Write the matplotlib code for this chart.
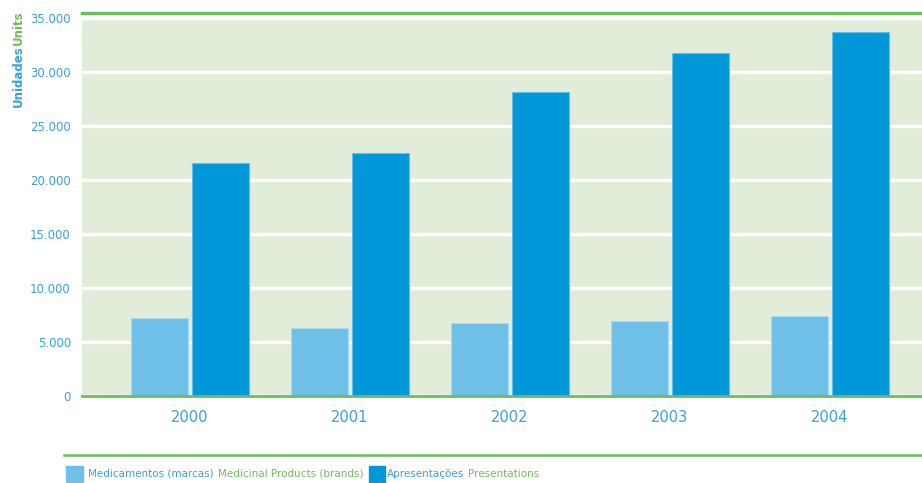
import matplotlib.pyplot as plt
import numpy as np
from matplotlib.patches import Rectangle
from matplotlib.lines import Line2D

plt.rcParams['font.family'] = ['DejaVu Sans']

years = ["2000", "2001", "2002", "2003", "2004"]
medicamentos = [7190, 6320, 6760, 6970, 7440]
apresentacoes = [21600, 22500, 28180, 31760, 33730]
yticks = [0, 5000, 10000, 15000, 20000, 25000, 30000, 35000]
ytick_labels = ["0", "5.000", "10.000", "15.000", "20.000", "25.000", "30.000", "35.000"]

LIGHT = "#6EC0E8"
DARK = "#0098D8"
GREEN = "#6BBF59"
BG = "#E2EDD9"
TXT = "#3A9FDB"

W, H = 922, 483
fig = plt.figure(figsize=(W / 100, H / 100), dpi=100)
ax = fig.add_axes([82 / W, 1 - 396 / H, 1 - 82 / W, (396 - 18) / H])
ax.set_facecolor(BG)

x = np.arange(len(years))
bw = 0.356
ax.bar(x - bw / 2 - 0.01, medicamentos, bw, color=LIGHT, edgecolor="#A8DCF2", linewidth=0.8, zorder=3)
ax.bar(x + bw / 2 + 0.01, apresentacoes, bw, color=DARK, edgecolor="#5FC0EC", linewidth=0.8, zorder=3)

ax.set_xlim(-0.675, 4.575)
ax.set_ylim(0, 35000)
ax.set_yticks(yticks)
ax.set_yticklabels(ytick_labels)
ax.set_xticks(x)
ax.set_xticklabels(years)
ax.yaxis.grid(True, color="white", linewidth=2.5, zorder=1)
ax.set_axisbelow(True)
ax.tick_params(axis="both", length=0, colors=TXT)
ax.tick_params(axis="y", labelsize=8.5, pad=8)
ax.tick_params(axis="x", labelsize=10.5, pad=10)
for s in ["top", "right", "left"]:
    ax.spines[s].set_visible(False)
ax.spines["bottom"].set_color(GREEN)
ax.spines["bottom"].set_linewidth(2)
ax.spines["bottom"].set_zorder(4)

# top and bottom green rules
fig.add_artist(Line2D([82 / W, 1], [1 - 13 / H, 1 - 13 / H], color=GREEN, linewidth=2.5))
fig.add_artist(Line2D([64 / W, 1], [1 - 455 / H, 1 - 455 / H], color=GREEN, linewidth=1.8))

# y axis label, two colours
fig.text(18 / W, 1 - 76 / H, "Unidades", rotation=90, color=TXT, fontsize=8.5,
         fontweight="bold", ha="center", va="center")
fig.text(18 / W, 1 - 28 / H, "Units", rotation=90, color=GREEN, fontsize=8.5,
         fontweight="bold", ha="center", va="center")

# legend
ly = 1 - 474 / H
fig.add_artist(Rectangle((66 / W, 1 - 482 / H), 17 / W, 16 / H, color=LIGHT, transform=fig.transFigure))
t1 = fig.text(88 / W, ly, "Medicamentos (marcas)", color=TXT, fontsize=7.5, va="center")
t2 = fig.text(0, 0, "Medicinal Products (brands)", color=GREEN, fontsize=7.5, va="center")
t3 = fig.text(0, 0, "Apresentações", color=TXT, fontsize=7.5, va="center")
t4 = fig.text(0, 0, "Presentations", color=GREEN, fontsize=7.5, va="center")

fig.canvas.draw()
r = fig.canvas.get_renderer()
inv = fig.transFigure.inverted()


def right_edge(t):
    bb = t.get_window_extent(r)
    return inv.transform((bb.x1, bb.y0))[0]


t2.set_position((right_edge(t1) + 4 / W, ly))
fig.canvas.draw()
sq = right_edge(t2) + 6 / W
fig.add_artist(Rectangle((sq, 1 - 482 / H), 16 / W, 16 / H, color=DARK, transform=fig.transFigure))
t3.set_position((sq + 18 / W, ly))
fig.canvas.draw()
t4.set_position((right_edge(t3) + 4 / W, ly))

fig.savefig("out.png", dpi=100)
